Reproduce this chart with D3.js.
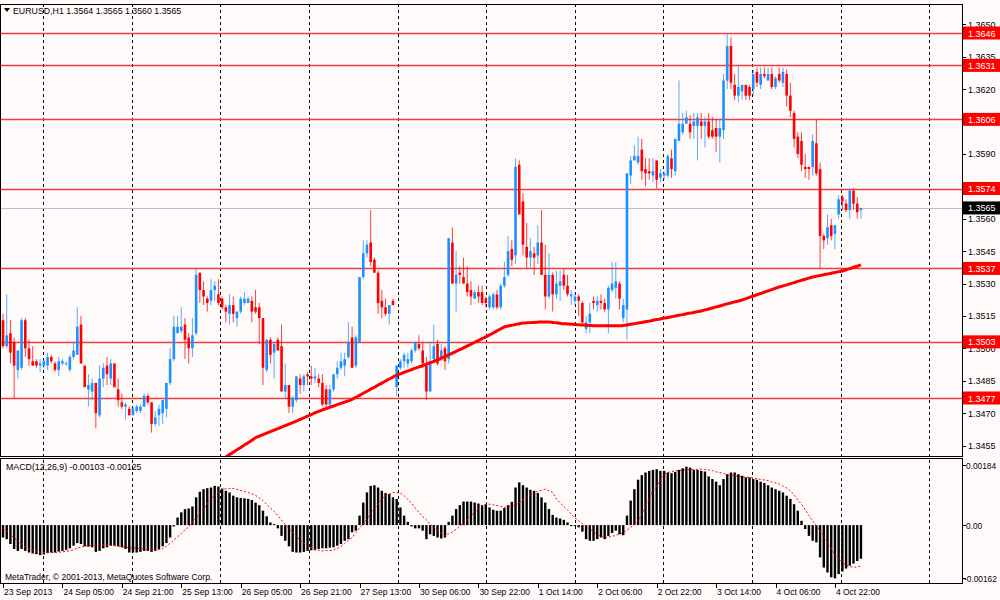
<!DOCTYPE html>
<html>
<head>
<meta charset="utf-8">
<script src="https://cdn.jsdelivr.net/npm/d3@7"></script>
<style>
body { margin: 0; background: #fffafa; }
svg { display: block; font-family: "Liberation Sans", Arial, sans-serif; }
</style>
</head>
<body>
<div id="wrapper"></div>
<script>
// EURUSD H1 bars, 23 Sep 2013 -> 4 Oct 2013 22:00
const open = [
  1.3513,1.3501,1.3507,1.3503,1.3490,1.3491,1.3513,1.3500,1.3494,1.3494,
  1.3492,1.3492,1.3492,1.3496,1.3493,1.3490,1.3493,1.3493,1.3490,1.3496,
  1.3497,1.3511,1.3492,1.3481,1.3480,1.3484,1.3469,1.3486,1.3492,1.3486,
  1.3493,1.3481,1.3475,1.3473,1.3472,1.3469,1.3471,1.3471,1.3473,1.3478,
  1.3475,1.3465,1.3469,1.3470,1.3472,1.3484,1.3495,1.3507,1.3508,1.3511,
  1.3505,1.3500,1.3507,1.3535,1.3527,1.3523,1.3522,1.3527,1.3525,1.3523,
  1.3519,1.3516,1.3520,1.3514,1.3517,1.3521,1.3521,1.3522,1.3519,1.3519,
  1.3514,1.3490,1.3504,1.3498,1.3504,1.3501,1.3480,1.3483,1.3473,1.3476,
  1.3486,1.3483,1.3488,1.3487,1.3486,1.3486,1.3484,1.3481,1.3474,1.3481,
  1.3488,1.3491,1.3492,1.3496,1.3505,1.3492,1.3503,1.3533,1.3544,1.3549,
  1.3541,1.3535,1.3522,1.3519,1.3516,1.3522,1.3482,1.3491,1.3494,1.3493,
  1.3494,1.3499,1.3502,1.3499,1.3493,1.3480,1.3495,1.3502,1.3495,1.3500,
  1.3495,1.3549,1.3530,1.3535,1.3533,1.3530,1.3527,1.3523,1.3526,1.3526,
  1.3523,1.3519,1.3519,1.3525,1.3519,1.3529,1.3534,1.3546,1.3543,1.3585,
  1.3568,1.3547,1.3542,1.3544,1.3543,1.3549,1.3534,1.3524,1.3534,1.3525,
  1.3529,1.3534,1.3529,1.3524,1.3522,1.3524,1.3521,1.3509,1.3512,1.3522,
  1.3520,1.3522,1.3521,1.3518,1.3527,1.3528,1.3530,1.3514,1.3518,1.3580,
  1.3587,1.3586,1.3592,1.3583,1.3582,1.3580,1.3587,1.3579,1.3580,1.3580,
  1.3588,1.3582,1.3596,1.3600,1.3604,1.3604,1.3603,1.3603,1.3605,1.3603,
  1.3605,1.3601,1.3602,1.3598,1.3601,1.3624,1.3640,1.3622,1.3617,1.3619,
  1.3622,1.3621,1.3620,1.3628,1.3622,1.3627,1.3624,1.3627,1.3621,1.3627,
  1.3623,1.3627,1.3617,1.3609,1.3598,1.3596,1.3584,1.3584,1.3584,1.3595,
  1.3583,1.3552,1.3551,1.3557,1.3553,1.3562,1.3570,1.3567,1.3564,1.3573,
  1.3567,1.3564
]
const high = [
  1.3516,1.3525,1.3513,1.3505,1.3499,1.3514,1.3514,1.3504,1.3501,1.3495,
  1.3495,1.3495,1.3498,1.3497,1.3494,1.3496,1.3495,1.3494,1.3497,1.3503,
  1.3519,1.3515,1.3492,1.3488,1.3486,1.3484,1.3492,1.3493,1.3496,1.3495,
  1.3493,1.3486,1.3479,1.3475,1.3473,1.3473,1.3474,1.3474,1.3479,1.3479,
  1.3475,1.3471,1.3474,1.3476,1.3484,1.3500,1.3515,1.3515,1.3519,1.3514,
  1.3507,1.3514,1.3537,1.3535,1.3531,1.3524,1.3532,1.3531,1.3532,1.3524,
  1.3520,1.3525,1.3524,1.3517,1.3524,1.3526,1.3524,1.3524,1.3527,1.3521,
  1.3514,1.3504,1.3505,1.3503,1.3505,1.3511,1.3493,1.3483,1.3478,1.3487,
  1.3488,1.3488,1.3489,1.3492,1.3491,1.3488,1.3488,1.3483,1.3483,1.3488,
  1.3494,1.3498,1.3498,1.3512,1.3510,1.3506,1.3533,1.3550,1.3550,1.3564,
  1.3542,1.3536,1.3527,1.3523,1.3520,1.3523,1.3492,1.3495,1.3498,1.3498,
  1.3500,1.3503,1.3506,1.3503,1.3496,1.3503,1.3511,1.3504,1.3502,1.3501,
  1.3551,1.3556,1.3545,1.3538,1.3542,1.3538,1.3531,1.3527,1.3529,1.3529,
  1.3524,1.3525,1.3526,1.3527,1.3530,1.3540,1.3552,1.3550,1.3588,1.3587,
  1.3572,1.3558,1.3551,1.3547,1.3557,1.3564,1.3548,1.3544,1.3535,1.3536,
  1.3536,1.3537,1.3534,1.3527,1.3526,1.3525,1.3522,1.3515,1.3521,1.3524,
  1.3524,1.3525,1.3523,1.3529,1.3540,1.3540,1.3531,1.3523,1.3581,1.3589,
  1.3594,1.3598,1.3597,1.3588,1.3588,1.3588,1.3587,1.3583,1.3582,1.3590,
  1.3592,1.3597,1.3624,1.3609,1.3610,1.3608,1.3609,1.3609,1.3609,1.3607,
  1.3609,1.3607,1.3606,1.3606,1.3627,1.3646,1.3644,1.3627,1.3631,1.3622,
  1.3622,1.3622,1.3629,1.3630,1.3630,1.3630,1.3630,1.3630,1.3626,1.3630,
  1.3630,1.3629,1.3623,1.3610,1.3600,1.3600,1.3590,1.3584,1.3599,1.3606,
  1.3586,1.3553,1.3562,1.3560,1.3557,1.3571,1.3571,1.3569,1.3574,1.3574,
  1.3570,1.3565
]
const low = [
  1.3500,1.3500,1.3493,1.3477,1.3486,1.3490,1.3496,1.3492,1.3492,1.3491,
  1.3489,1.3491,1.3490,1.3493,1.3489,1.3487,1.3492,1.3492,1.3489,1.3495,
  1.3497,1.3493,1.3482,1.3473,1.3476,1.3463,1.3468,1.3482,1.3483,1.3483,
  1.3482,1.3473,1.3472,1.3467,1.3469,1.3469,1.3470,1.3470,1.3473,1.3474,
  1.3461,1.3464,1.3464,1.3465,1.3468,1.3483,1.3494,1.3507,1.3507,1.3495,
  1.3493,1.3496,1.3506,1.3521,1.3520,1.3517,1.3520,1.3522,1.3520,1.3518,
  1.3512,1.3511,1.3512,1.3510,1.3516,1.3520,1.3521,1.3512,1.3516,1.3502,
  1.3483,1.3489,1.3493,1.3486,1.3499,1.3480,1.3477,1.3470,1.3470,1.3475,
  1.3479,1.3480,1.3483,1.3483,1.3484,1.3482,1.3473,1.3472,1.3472,1.3480,
  1.3486,1.3490,1.3487,1.3495,1.3491,1.3491,1.3503,1.3532,1.3542,1.3538,
  1.3535,1.3516,1.3514,1.3515,1.3511,1.3520,1.3478,1.3490,1.3491,1.3491,
  1.3493,1.3498,1.3499,1.3491,1.3476,1.3480,1.3493,1.3492,1.3494,1.3490,
  1.3493,1.3530,1.3517,1.3530,1.3530,1.3524,1.3520,1.3523,1.3521,1.3520,
  1.3519,1.3518,1.3518,1.3518,1.3518,1.3528,1.3533,1.3538,1.3539,1.3562,
  1.3543,1.3537,1.3537,1.3534,1.3539,1.3534,1.3518,1.3523,1.3517,1.3523,
  1.3522,1.3527,1.3524,1.3520,1.3520,1.3515,1.3511,1.3507,1.3507,1.3518,
  1.3517,1.3518,1.3517,1.3507,1.3526,1.3523,1.3518,1.3512,1.3504,1.3576,
  1.3587,1.3585,1.3578,1.3575,1.3578,1.3577,1.3574,1.3577,1.3578,1.3579,
  1.3579,1.3580,1.3596,1.3599,1.3604,1.3597,1.3597,1.3587,1.3597,1.3593,
  1.3597,1.3597,1.3591,1.3586,1.3597,1.3620,1.3620,1.3615,1.3614,1.3615,
  1.3615,1.3615,1.3617,1.3621,1.3620,1.3625,1.3624,1.3620,1.3620,1.3623,
  1.3621,1.3612,1.3607,1.3593,1.3588,1.3582,1.3579,1.3578,1.3580,1.3580,
  1.3537,1.3546,1.3548,1.3550,1.3546,1.3560,1.3564,1.3563,1.3560,1.3564,
  1.3560,1.3560
]
const close = [
  1.3501,1.3506,1.3498,1.3492,1.3499,1.3513,1.3500,1.3495,1.3492,1.3492,
  1.3493,1.3494,1.3496,1.3494,1.3490,1.3494,1.3494,1.3493,1.3496,1.3499,
  1.3510,1.3493,1.3482,1.3483,1.3484,1.3470,1.3486,1.3491,1.3488,1.3493,
  1.3482,1.3476,1.3473,1.3474,1.3469,1.3472,1.3473,1.3473,1.3478,1.3475,
  1.3465,1.3468,1.3472,1.3476,1.3484,1.3495,1.3510,1.3510,1.3510,1.3504,
  1.3500,1.3506,1.3534,1.3527,1.3524,1.3521,1.3527,1.3529,1.3521,1.3519,
  1.3517,1.3520,1.3516,1.3517,1.3523,1.3523,1.3523,1.3517,1.3517,1.3514,
  1.3491,1.3504,1.3497,1.3502,1.3499,1.3480,1.3483,1.3473,1.3477,1.3487,
  1.3483,1.3487,1.3487,1.3486,1.3487,1.3484,1.3474,1.3474,1.3481,1.3488,
  1.3491,1.3494,1.3495,1.3503,1.3491,1.3505,1.3533,1.3544,1.3548,1.3540,
  1.3535,1.3521,1.3519,1.3516,1.3520,1.3520,1.3492,1.3494,1.3497,1.3495,
  1.3499,1.3503,1.3500,1.3493,1.3480,1.3494,1.3501,1.3493,1.3499,1.3494,
  1.3551,1.3530,1.3534,1.3534,1.3530,1.3526,1.3524,1.3526,1.3524,1.3521,
  1.3521,1.3524,1.3525,1.3519,1.3529,1.3533,1.3545,1.3541,1.3584,1.3562,
  1.3548,1.3542,1.3545,1.3542,1.3549,1.3534,1.3524,1.3534,1.3525,1.3530,
  1.3531,1.3529,1.3525,1.3525,1.3524,1.3522,1.3512,1.3512,1.3516,1.3521,
  1.3522,1.3521,1.3518,1.3528,1.3530,1.3531,1.3523,1.3520,1.3581,1.3587,
  1.3589,1.3589,1.3582,1.3581,1.3581,1.3582,1.3578,1.3581,1.3581,1.3589,
  1.3583,1.3597,1.3604,1.3604,1.3607,1.3600,1.3605,1.3607,1.3603,1.3605,
  1.3598,1.3598,1.3598,1.3602,1.3624,1.3640,1.3623,1.3617,1.3621,1.3622,
  1.3617,1.3617,1.3627,1.3623,1.3627,1.3626,1.3627,1.3621,1.3625,1.3624,
  1.3628,1.3617,1.3610,1.3597,1.3590,1.3585,1.3583,1.3583,1.3596,1.3581,
  1.3552,1.3550,1.3556,1.3552,1.3557,1.3569,1.3568,1.3564,1.3573,1.3567,
  1.3563,1.3565
]

// long moving average, visible from bar 59 on
const maFirstBar = 59
const ma = [
  1.34485,1.34497,1.34508,1.34519,1.34530,1.34541,1.34552,1.34563,1.34574,1.34586,
  1.34593,1.34600,1.34607,1.34614,1.34621,1.34628,1.34635,1.34642,1.34649,1.34656,
  1.34663,1.34671,1.34678,1.34686,1.34693,1.34701,1.34708,
  1.34715,1.34721,1.34727,1.34733,1.34739,1.34745,1.34751,1.34757,1.34764,
  1.34773,1.34782,1.34792,1.34801,1.34811,1.34820,1.34830,1.34839,1.34849,1.34858,1.34867,1.34876,
  1.34882,1.34889,1.34895,1.34901,1.34908,1.34914,1.34920,1.34927,1.34933,1.34940,1.34946,
  1.34954,1.34962,1.34970,1.34978,1.34986,1.34994,1.35002,
  1.35011,1.35019,1.35028,1.35036,1.35045,1.35053,
  1.35062,1.35071,1.35081,1.35090,1.35099,
  1.35103,1.35107,1.35110,1.35114,1.35117,
  1.35118,1.35119,1.35120,1.35121,1.35122,1.35122,1.35122,
  1.35120,1.35118,1.35116,1.35114,1.35113,
  1.35112,1.35110,1.35109,1.35108,
  1.35107,1.35106,1.35105,1.35105,1.35104,1.35104,1.35104,1.35104,1.35105,1.35105,1.35106,1.35108,
  1.35111,1.35114,1.35117,1.35120,1.35123,
  1.35126,1.35130,1.35133,1.35136,1.35140,1.35143,1.35146,1.35150,1.35153,1.35156,1.35160,1.35163,1.35166,1.35170,1.35173,
  1.35178,1.35182,1.35187,1.35192,1.35196,1.35201,1.35206,1.35210,1.35215,1.35219,1.35224,
  1.35230,1.35236,1.35242,1.35248,1.35254,1.35260,1.35266,1.35272,1.35278,1.35284,
  1.35289,1.35294,1.35299,1.35304,1.35310,1.35315,1.35320,1.35325,1.35330,
  1.35334,1.35337,1.35341,1.35344,1.35348,1.35351,1.35355,1.35358,
  1.35364,1.35369,1.35375,1.35380,1.35386
]

// MACD(12,26,9): main histogram and signal
const macd = [
  -0.00038,-0.00043,-0.00058,-0.00073,-0.00079,-0.00073,-0.00079,-0.00084,-0.00087,-0.00089,
  -0.00092,-0.00090,-0.00086,-0.00084,-0.00084,-0.00081,-0.00079,-0.00076,-0.00071,-0.00063,
  -0.00055,-0.00058,-0.00065,-0.00066,-0.00068,-0.00082,-0.00079,-0.00071,-0.00068,-0.00063,
  -0.00063,-0.00065,-0.00068,-0.00073,-0.00084,-0.00084,-0.00084,-0.00082,-0.00079,-0.00079,
  -0.00082,-0.00079,-0.00073,-0.00065,-0.00055,-0.00038,-0.00004,0.00023,0.00039,0.00049,
  0.00051,0.00057,0.00085,0.00102,0.00110,0.00113,0.00115,0.00120,0.00118,0.00112,
  0.00105,0.00100,0.00090,0.00085,0.00083,0.00082,0.00080,0.00077,0.00069,0.00061,
  0.00044,0.00027,0.00008,0.00003,-0.00010,-0.00033,-0.00048,-0.00065,-0.00082,-0.00084,
  -0.00084,-0.00082,-0.00079,-0.00077,-0.00077,-0.00073,-0.00071,-0.00071,-0.00069,-0.00068,
  -0.00063,-0.00058,-0.00048,-0.00043,-0.00022,-0.00017,0.00029,0.00069,0.00100,0.00120,
  0.00122,0.00115,0.00105,0.00098,0.00095,0.00085,0.00080,0.00054,0.00029,0.00010,
  -0.00004,-0.00010,-0.00010,-0.00017,-0.00043,-0.00028,-0.00033,-0.00038,-0.00041,-0.00038,
  0.00010,0.00029,0.00049,0.00061,0.00072,0.00072,0.00072,0.00069,0.00066,0.00061,
  0.00064,0.00054,0.00047,0.00044,0.00044,0.00052,0.00061,0.00071,0.00115,0.00131,
  0.00122,0.00115,0.00108,0.00105,0.00098,0.00085,0.00069,0.00049,0.00031,0.00023,
  0.00020,0.00016,0.00008,-0.00002,-0.00002,-0.00007,-0.00020,-0.00043,-0.00048,-0.00048,
  -0.00043,-0.00038,-0.00043,-0.00033,-0.00024,-0.00017,-0.00028,-0.00031,0.00029,0.00075,
  0.00110,0.00139,0.00153,0.00161,0.00166,0.00169,0.00171,0.00166,0.00166,0.00161,
  0.00159,0.00163,0.00169,0.00174,0.00179,0.00176,0.00169,0.00169,0.00166,0.00164,
  0.00149,0.00141,0.00133,0.00122,0.00141,0.00156,0.00161,0.00161,0.00156,0.00151,
  0.00146,0.00146,0.00141,0.00139,0.00133,0.00129,0.00122,0.00115,0.00110,0.00105,
  0.00100,0.00090,0.00080,0.00064,0.00044,0.00013,-0.00012,-0.00033,-0.00048,-0.00053,
  -0.00099,-0.00130,-0.00145,-0.00160,-0.00163,-0.00150,-0.00142,-0.00133,-0.00124,-0.00118,
  -0.00110,-0.00103
]
const signal = [
  -0.00009,-0.00018,-0.00029,-0.00039,-0.00049,-0.00058,-0.00065,-0.00072,-0.00077,-0.00080,
  -0.00083,-0.00084,-0.00084,-0.00084,-0.00084,-0.00083,-0.00082,-0.00080,-0.00079,-0.00076,
  -0.00071,-0.00067,-0.00064,-0.00063,-0.00062,-0.00061,-0.00061,-0.00061,-0.00061,-0.00062,
  -0.00063,-0.00064,-0.00066,-0.00067,-0.00069,-0.00070,-0.00071,-0.00072,-0.00073,-0.00075,
  -0.00076,-0.00076,-0.00075,-0.00072,-0.00064,-0.00056,-0.00046,-0.00036,-0.00026,-0.00014,
  -0.00006,0.00009,0.00022,0.00038,0.00049,0.00064,0.00080,0.00092,0.00100,0.00110,
  0.00111,0.00112,0.00112,0.00109,0.00106,0.00103,0.00100,0.00096,0.00091,0.00083,
  0.00075,0.00063,0.00052,0.00042,0.00029,0.00015,0.00002,-0.00011,-0.00023,-0.00035,
  -0.00046,-0.00055,-0.00063,-0.00070,-0.00074,-0.00077,-0.00079,-0.00078,-0.00078,-0.00077,
  -0.00071,-0.00066,-0.00056,-0.00047,-0.00038,-0.00023,-0.00008,0.00003,0.00018,0.00036,
  0.00051,0.00064,0.00080,0.00089,0.00095,0.00100,0.00099,0.00098,0.00090,0.00079,
  0.00067,0.00052,0.00039,0.00026,0.00016,0.00003,-0.00007,-0.00016,-0.00025,-0.00031,
  -0.00027,-0.00021,-0.00013,-0.00003,0.00006,0.00017,0.00029,0.00039,0.00049,0.00058,
  0.00064,0.00064,0.00062,0.00060,0.00057,0.00054,0.00057,0.00059,0.00061,0.00068,
  0.00077,0.00085,0.00092,0.00099,0.00103,0.00107,0.00110,0.00105,0.00100,0.00080,
  0.00068,0.00057,0.00046,0.00034,0.00022,0.00013,0.00005,-0.00004,-0.00012,-0.00020,
  -0.00029,-0.00034,-0.00038,-0.00036,-0.00035,-0.00031,-0.00028,-0.00023,-0.00016,-0.00007,
  0.00002,0.00013,0.00034,0.00059,0.00082,0.00105,0.00120,0.00136,0.00156,0.00161,
  0.00164,0.00166,0.00167,0.00168,0.00169,0.00170,0.00170,0.00171,0.00171,0.00170,
  0.00169,0.00167,0.00163,0.00161,0.00158,0.00154,0.00152,0.00151,0.00149,0.00148,
  0.00147,0.00146,0.00144,0.00142,0.00140,0.00138,0.00136,0.00132,0.00129,0.00126,
  0.00119,0.00113,0.00105,0.00092,0.00077,0.00064,0.00047,0.00029,0.00013,-0.00002,
  -0.00017,-0.00036,-0.00055,-0.00073,-0.00090,-0.00104,-0.00114,-0.00122,-0.00127,-0.00129,
  -0.00128,-0.00125
]

const timeLabels = ['23 Sep 2013','24 Sep 05:00','24 Sep 21:00','25 Sep 13:00','26 Sep 05:00',
  '26 Sep 21:00','27 Sep 13:00','30 Sep 06:00','30 Sep 22:00','1 Oct 14:00','2 Oct 06:00',
  '2 Oct 22:00','3 Oct 14:00','4 Oct 06:00','4 Oct 22:00']
const barsPerLabel = 16

// 1.3605 and 1.3575 sit under the level tags, so they are not listed
const priceTicks = [1.3650,1.3635,1.3620,1.3590,1.3560,1.3545,1.3530,1.3515,1.3500,1.3485,1.3470,1.3455]
const levels = [1.3646,1.3631,1.3606,1.3574,1.3537,1.3503,1.3477]
const bidPrice = 1.3565
const macdTicks = [0.00184, 0, -0.00162]
const macdTickText = ['0.00184', '0.00', '-0.00162']

const header = 'EURUSD,H1  1.3564 1.3565 1.3560 1.3565'
const macdHeader = 'MACD(12,26,9) -0.00103 -0.00125'
const copyright = 'MetaTrader, \u00a9 2001-2013, MetaQuotes Software Corp.'

// layout
const width = 1000, height = 600
const right = 962
const mainTop = 4, mainBottom = 456
const macdTop = 458, macdBottom = 583
const n = close.length

const wrapper = d3.select('#wrapper')
    .append('svg')
        .attr('width', width)
        .attr('height', height)

wrapper.append('rect')
    .attr('width', width)
    .attr('height', height)
    .attr('fill', '#fffafa')

const x = d3.scaleLinear()
    .domain([0, n - 1])
    .range([3, 3 + (n - 1) * 3.714])

const y = d3.scaleLinear()
    .domain([1.3477, 1.3646])
    .range([398, 33])

const ym = d3.scaleLinear()
    .domain([-0.00162, 0.00184])
    .range([578, 465])

const defs = wrapper.append('defs')
defs.append('clipPath').attr('id', 'clipMain')
    .append('rect').attr('x', 1).attr('y', mainTop + 1).attr('width', right - 1).attr('height', mainBottom - mainTop - 1)
defs.append('clipPath').attr('id', 'clipMacd')
    .append('rect').attr('x', 1).attr('y', macdTop + 1).attr('width', right - 1).attr('height', macdBottom - macdTop - 1)

// vertical grid, roughly one line a day
const gridBars = d3.range(10.8, n + 20, 23.86)
wrapper.append('g')
    .selectAll('line')
    .data(gridBars)
    .join('line')
        .attr('x1', d => Math.round(x(d)) + 0.5)
        .attr('x2', d => Math.round(x(d)) + 0.5)
        .attr('y1', mainTop)
        .attr('y2', macdBottom)
        .attr('stroke', '#000')
        .attr('stroke-dasharray', '3,3')
        .attr('stroke-width', 1)

const main = wrapper.append('g').attr('clip-path', 'url(#clipMain)')

// horizontal level lines and bid line
main.selectAll('line.level')
    .data(levels)
    .join('line')
        .attr('class', 'level')
        .attr('x1', 0)
        .attr('x2', right)
        .attr('y1', d => Math.round(y(d)) + 0.5)
        .attr('y2', d => Math.round(y(d)) + 0.5)
        .attr('stroke', '#f03c3c')
        .attr('stroke-width', 1.4)

main.append('line')
    .attr('x1', 0)
    .attr('x2', right)
    .attr('y1', Math.round(y(bidPrice)) + 0.5)
    .attr('y2', Math.round(y(bidPrice)) + 0.5)
    .attr('stroke', '#c0c0c0')

// candles
const bars = d3.range(n)
const color = i => close[i] >= open[i] ? '#1e90ff' : '#ff0000'

main.append('g')
    .selectAll('line')
    .data(bars)
    .join('line')
        .attr('x1', i => x(i))
        .attr('x2', i => x(i))
        .attr('y1', i => y(high[i]))
        .attr('y2', i => y(low[i]))
        .attr('stroke', color)
        .attr('stroke-opacity', 0.75)
        .attr('stroke-width', 1)

main.append('g')
    .selectAll('rect')
    .data(bars)
    .join('rect')
        .attr('x', i => x(i) - 1.3)
        .attr('width', 2.6)
        .attr('y', i => y(Math.max(open[i], close[i])))
        .attr('height', i => Math.max(1, Math.abs(y(open[i]) - y(close[i]))))
        .attr('fill', color)

// moving average
const maLine = d3.line()
    .x((d, k) => x(maFirstBar + k))
    .y(d => y(d))
    .curve(d3.curveMonotoneX)

main.append('path')
    .datum(ma)
    .attr('d', maLine)
    .attr('fill', 'none')
    .attr('stroke', '#ff0000')
    .attr('stroke-width', 3)

// MACD window
const sub = wrapper.append('g').attr('clip-path', 'url(#clipMacd)')

sub.append('g')
    .selectAll('rect')
    .data(bars)
    .join('rect')
        .attr('x', i => x(i) - 1.2)
        .attr('width', 2.4)
        .attr('y', i => Math.min(ym(macd[i]), ym(0)))
        .attr('height', i => Math.max(1, Math.abs(ym(macd[i]) - ym(0))))
        .attr('fill', '#000')

sub.append('path')
    .datum(signal)
    .attr('d', d3.line().x((d, i) => x(i)).y(d => ym(d)))
    .attr('fill', 'none')
    .attr('stroke', '#ff0000')
    .attr('stroke-width', 1)
    .attr('stroke-dasharray', '2,2')

// frames
wrapper.append('rect')
    .attr('x', 0.5).attr('y', mainTop + 0.5)
    .attr('width', right).attr('height', mainBottom - mainTop)
    .attr('fill', 'none').attr('stroke', '#000')
wrapper.append('rect')
    .attr('x', 0.5).attr('y', macdTop + 0.5)
    .attr('width', right).attr('height', macdBottom - macdTop)
    .attr('fill', 'none').attr('stroke', '#000')

// price axis
const axis = wrapper.append('g').attr('font-size', '9px')

axis.selectAll('line.tick')
    .data(priceTicks)
    .join('line')
        .attr('class', 'tick')
        .attr('x1', right).attr('x2', right + 4)
        .attr('y1', d => Math.round(y(d)) + 0.5)
        .attr('y2', d => Math.round(y(d)) + 0.5)
        .attr('stroke', '#000')

axis.selectAll('text.tick')
    .data(priceTicks)
    .join('text')
        .attr('class', 'tick')
        .attr('x', right + 6)
        .attr('y', d => y(d) + 3.5)
        .text(d => d.toFixed(4))

const tags = axis.selectAll('g.tag')
    .data(levels.map(v => ({ v, bg: '#ff0000' })).concat([{ v: bidPrice, bg: '#000' }]))
    .join('g')
        .attr('class', 'tag')

tags.append('rect')
    .attr('x', right + 1)
    .attr('y', d => y(d.v) - 6.5)
    .attr('width', width - right - 1)
    .attr('height', 13)
    .attr('fill', d => d.bg)

tags.append('text')
    .attr('x', right + 6)
    .attr('y', d => y(d.v) + 3.5)
    .attr('fill', '#fff')
    .text(d => d.v.toFixed(4))

// MACD axis
axis.selectAll('line.mtick')
    .data(macdTicks)
    .join('line')
        .attr('class', 'mtick')
        .attr('x1', right).attr('x2', right + 4)
        .attr('y1', d => Math.round(ym(d)) + 0.5)
        .attr('y2', d => Math.round(ym(d)) + 0.5)
        .attr('stroke', '#000')

axis.selectAll('text.mtick')
    .data(macdTicks)
    .join('text')
        .attr('class', 'mtick')
        .attr('x', d => d < 0 ? right + 2 : right + 4)
        .attr('y', d => ym(d) + 3.5)
        .attr('font-size', '8.3px')
        .text((d, i) => macdTickText[i])

// time axis
const times = wrapper.append('g').attr('font-size', '8.5px')

times.selectAll('line')
    .data(timeLabels)
    .join('line')
        .attr('x1', (d, i) => Math.round(x(i * barsPerLabel)) + 0.5)
        .attr('x2', (d, i) => Math.round(x(i * barsPerLabel)) + 0.5)
        .attr('y1', macdBottom)
        .attr('y2', macdBottom + 5)
        .attr('stroke', '#000')

times.selectAll('text')
    .data(timeLabels)
    .join('text')
        .attr('x', (d, i) => x(i * barsPerLabel) + 1)
        .attr('y', 595)
        .text(d => d)

// window captions
wrapper.append('path')
    .attr('d', 'M4,8 L10,8 L7,12 Z')
    .attr('fill', '#000')
wrapper.append('text')
    .attr('x', 13).attr('y', 14)
    .attr('font-size', '8.8px')
    .text(header)

wrapper.append('text')
    .attr('x', 6).attr('y', 470)
    .attr('font-size', '8.8px')
    .text(macdHeader)

wrapper.append('text')
    .attr('x', 5).attr('y', 580)
    .attr('font-size', '8.5px')
    .text(copyright)
</script>
</body>
</html>
